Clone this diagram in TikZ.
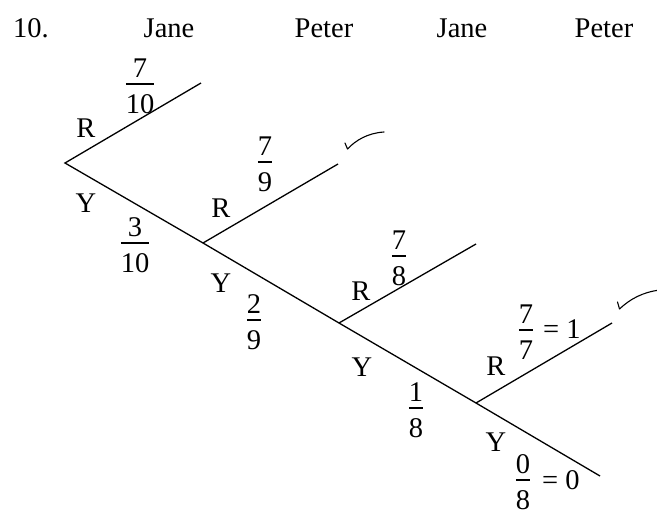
\documentclass[tikz,border=0pt]{standalone}
\usepackage{fontspec}
\setmainfont{Liberation Serif}
\newcommand\myfr[2]{\ensuremath{\vcenter{\offinterlineskip\halign{\hfil##\hfil\cr
  \vphantom{0}#1\cr\noalign{\kern5pt\hrule height 2.8pt\kern9pt}
  \vphantom{0}#2\cr}}}}
\begin{document}
\begin{tikzpicture}[x=1pt,y=-1pt,
  every node/.style={font=\fontsize{28.5}{34}\selectfont,inner sep=0pt},
  branch/.style={line width=1.3pt},
  tick/.style={line width=1.1pt,line cap=round,line join=round},
  lbl/.style={anchor=center},
  hdr/.style={anchor=base}]
\useasboundingbox (0,0) rectangle (657,517);
% header
\node[anchor=base west] (num) at (13,37) {10.};
\node[hdr] (h1) at (169,37) {Jane};
\node[hdr] (h2) at (324,37) {Peter};
\node[hdr] (h3) at (462,37) {Jane};
\node[hdr] (h4) at (604,37) {Peter};
% tree points
\coordinate (A) at (65,163);
\coordinate (R1) at (201,83);
\coordinate (B) at (203,243);
\coordinate (R2) at (338,164);
\coordinate (C) at (339,323);
\coordinate (R3) at (476,244);
\coordinate (D) at (476,403);
\coordinate (R4) at (612,323);
\coordinate (E) at (600,476);
\draw[branch] (R1) -- (A) -- (B) -- (C) -- (D) -- (E);
\draw[branch] (B) -- (R2);
\draw[branch] (C) -- (R3);
\draw[branch] (D) -- (R4);
% labels
\node[lbl] (lr1) at (86,128) {R};
\node[lbl] (ly1) at (86,203) {Y};
\node[lbl] (lr2) at (221,208) {R};
\node[lbl] (ly2) at (221,283) {Y};
\node[lbl] (lr3) at (361,291) {R};
\node[lbl] (ly3) at (362,367) {Y};
\node[lbl] (lr4) at (496,366) {R};
\node[lbl] (ly4) at (496,442) {Y};
% fractions
\node (f1) at (140,86) {\myfr{7}{10}};
\node (f2) at (135,245) {\myfr{3}{10}};
\node (f3) at (265,164) {\myfr{7}{9}};
\node (f4) at (254,322) {\myfr{2}{9}};
\node (f5) at (399,258) {\myfr{7}{8}};
\node (f6) at (416,410) {\myfr{1}{8}};
\node (f7) at (526,332) {\myfr{7}{7}};
\node[anchor=base west] (e7) at (543,338) {= 1};
\node (f8) at (523,482) {\myfr{0}{8}};
\node[anchor=base west] (e8) at (542,489) {= 0};
% ticks
\coordinate (t1a) at (345,143);
\coordinate (t1b) at (347.5,149);
\coordinate (t1c) at (384,132);
\draw[tick] (t1a) -- (t1b) .. controls (356,140) and (368,133) .. (t1c);
\coordinate (t2a) at (617.5,302);
\coordinate (t2b) at (619.5,309);
\coordinate (t2c) at (660,290);
\draw[tick] (t2a) -- (t2b) .. controls (630,299) and (643,292) .. (t2c);
\end{tikzpicture}
\end{document}
